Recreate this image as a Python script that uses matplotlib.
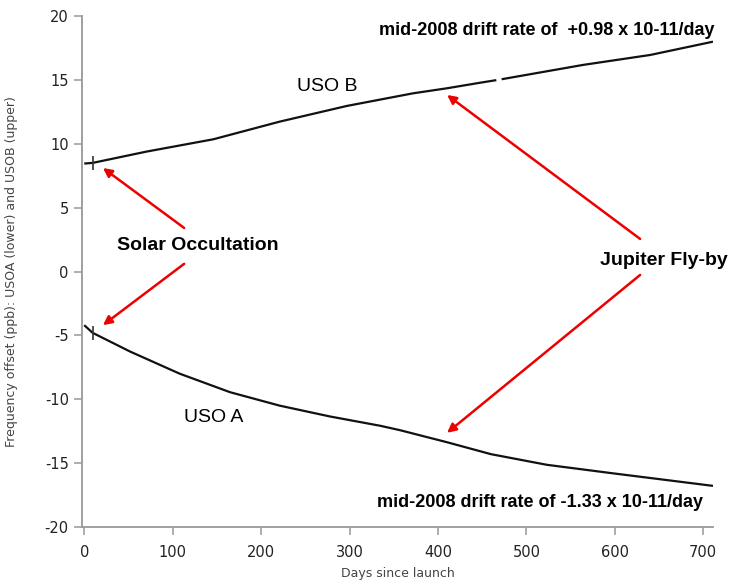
import numpy as np
import matplotlib
matplotlib.use("Agg")
import matplotlib.pyplot as plt

plt.rcParams["axes.unicode_minus"] = False

# ---- data ----
days_B1 = [0, 9.5, 70, 146, 221, 297, 372, 410, 448, 466]
uso_B1 = [8.45, 8.5, 9.38, 10.35, 11.73, 12.96, 13.95, 14.34, 14.78, 14.98]
days_B2 = [472, 564, 640, 711]
uso_B2 = [15.05, 16.17, 16.95, 17.99]

days_A = [0, 9.5, 52, 108, 165, 221, 278, 335, 357, 410, 460, 523, 598, 711]
uso_A = [-4.2, -4.8, -6.27, -8.0, -9.45, -10.5, -11.35, -12.08, -12.42, -13.36,
         -14.3, -15.13, -15.8, -16.78]

occultation_day = 9.5
occultation_B = 8.5
occultation_A = -4.85

xticks = [0, 100, 200, 300, 400, 500, 600, 700]
yticks = [-20, -15, -10, -5, 0, 5, 10, 15, 20]

fig = plt.figure(figsize=(7.32, 5.83), dpi=100)
ax = fig.add_axes([82 / 732, 56 / 583, 631 / 732, 511 / 583])

line_kw = dict(color="#111111", lw=1.6, solid_capstyle="butt")
ax.plot(days_B1, uso_B1, **line_kw)
ax.plot(days_B2, uso_B2, **line_kw)
ax.plot(days_A, uso_A, **line_kw)
ax.plot([occultation_day, occultation_day], [occultation_B, occultation_A],
        ls="none", marker="|", ms=10, mew=1.2, color="#333333")

ax.set_xlim(-2.5, 711)
ax.set_ylim(-20, 20)
ax.set_xticks(xticks)
ax.set_yticks(yticks)

for s in ["top", "right"]:
    ax.spines[s].set_visible(False)
for s in ["left", "bottom"]:
    ax.spines[s].set_color("#999999")
    ax.spines[s].set_linewidth(1.3)

ax.tick_params(axis="both", direction="out", length=6, width=1.1,
               color="#999999", labelcolor="#222222", labelsize=10.5)
ax.tick_params(axis="x", pad=7)
ax.tick_params(axis="y", pad=3.5)

ax.set_xlabel("Days since launch", fontsize=9, color="#444444")
ax.xaxis.set_label_coords(0.5, -0.078)
ax.set_ylabel("Frequency offset (ppb): USOA (lower) and USOB (upper)",
              fontsize=9, color="#444444")
ax.yaxis.set_label_coords(-0.101, 0.5)

bold = dict(family="Liberation Sans", weight="bold", color="black")
reg = dict(family="Liberation Sans", color="black")

ax.text(333.4, 18.9, "mid-2008 drift rate of  +0.98 x 10-11/day",
        fontsize=13, ha="left", va="center", **bold)
ax.text(331, -18.1, "mid-2008 drift rate of -1.33 x 10-11/day",
        fontsize=13, ha="left", va="center", **bold)
ax.text(240.7, 14.5, "USO B", fontsize=14, ha="left", va="center", **reg)
ax.text(112.9, -11.46, "USO A", fontsize=14, ha="left", va="center", **reg)
ax.text(128.6, 2.0, "Solar Occultation", fontsize=14, ha="center",
        va="center", **bold)
ax.text(655.8, 0.9, "Jupiter Fly-by", fontsize=14, ha="center",
        va="center", clip_on=False, **bold)

arrow_kw = dict(arrowstyle="-|>", color="#ee0000", lw=1.8,
                mutation_scale=13, shrinkA=0, shrinkB=0)
ax.annotate("", xy=(21.2, 8.1), xytext=(113, 3.41), arrowprops=arrow_kw)
ax.annotate("", xy=(21.2, -4.2), xytext=(113, 0.6), arrowprops=arrow_kw)
ax.annotate("", xy=(410.3, 13.82), xytext=(628.6, 2.55), arrowprops=arrow_kw)
ax.annotate("", xy=(410.3, -12.63), xytext=(628.6, -0.27), arrowprops=arrow_kw)

fig.savefig("out.png", dpi=100)
